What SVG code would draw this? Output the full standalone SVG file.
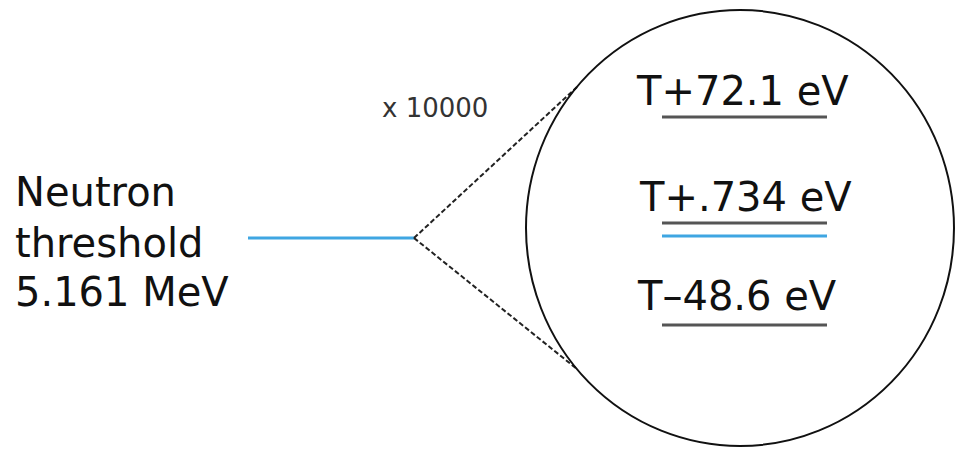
<svg xmlns="http://www.w3.org/2000/svg" width="955" height="449" viewBox="0 0 955 449">
<style>
.lbl{font-family:"DejaVu Sans","Liberation Sans",sans-serif;font-size:40px;fill:#111}
.small{font-family:"DejaVu Sans","Liberation Sans",sans-serif;font-size:26px;fill:#333}
.lvl{stroke:#555;stroke-width:3;fill:none}
.blue{stroke:#3fa6e2;stroke-width:3;fill:none}
.dash{stroke:#222;stroke-width:2;stroke-dasharray:5 2.5;fill:none}
</style>
<rect width="955" height="449" fill="#fff"/>
<g id="threshold">
<text class="lbl" x="15" y="206">Neutron</text>
<text class="lbl" x="15" y="257">threshold</text>
<text class="lbl" x="15" y="306">5.161 MeV</text>
<line class="blue" x1="248" y1="238" x2="414" y2="238"/>
</g>
<g id="connectors">
<line class="dash" x1="414" y1="238" x2="577" y2="87"/>
<line class="dash" x1="414" y1="238" x2="577" y2="369"/>
</g>
<text class="small" x="382" y="117">x 10000</text>
<g id="zoom-circle">
<ellipse cx="740" cy="228" rx="214" ry="218" fill="none" stroke="#111" stroke-width="2"/>
</g>
<g id="level-72">
<text class="lbl" x="637" y="105">T+72.1 eV</text>
<line class="lvl" x1="662" y1="117" x2="827" y2="117"/>
</g>
<g id="level-734">
<text class="lbl" x="640" y="211">T+.734 eV</text>
<line class="lvl" x1="662" y1="223" x2="827" y2="223"/>
<line class="blue" x1="662" y1="236" x2="827" y2="236"/>
</g>
<g id="level-48">
<text class="lbl" x="638" y="310">T–48.6 eV</text>
<line class="lvl" x1="662" y1="325" x2="827" y2="325" stroke="#111"/>
</g>
</svg>
